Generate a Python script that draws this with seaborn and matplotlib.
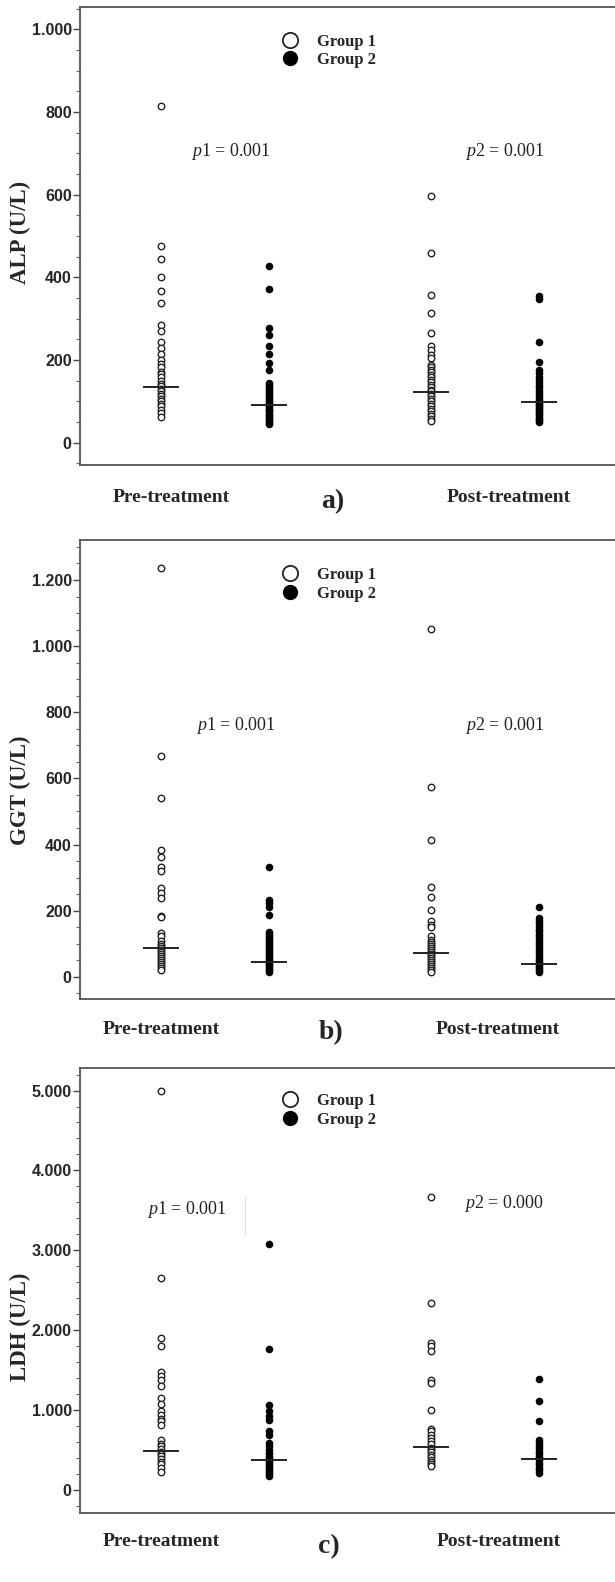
import matplotlib
matplotlib.use("Agg")
import matplotlib.pyplot as plt
from matplotlib.lines import Line2D
from matplotlib.ticker import MultipleLocator, FuncFormatter
import seaborn as sns
import pandas as pd

# values (U/L)
times = ["Pre-treatment", "Post-treatment"]
groups = ["Group 1", "Group 2"]

alp_pre_g1 = [815, 477, 444, 402, 368, 338, 284, 270, 243, 230, 215, 200, 190, 182, 172, 165,
              158, 150, 143, 136, 130, 124, 118, 112, 106, 100, 94, 88, 80, 72, 63]
alp_pre_g2 = [428, 371, 277, 261, 235, 215, 193, 176, 145, 140, 135, 130, 125, 120, 115, 110,
              105, 100, 96, 92, 88, 84, 80, 76, 72, 68, 64, 60, 56, 52, 48, 44]
alp_post_g1 = [597, 460, 357, 313, 265, 233, 225, 213, 205, 188, 182, 176, 170, 164, 158, 152,
               146, 140, 134, 128, 124, 118, 112, 106, 100, 94, 88, 82, 76, 70, 64, 58, 52]
alp_post_g2 = [355, 347, 244, 194, 176, 168, 160, 152, 145, 138, 132, 126, 120, 114, 108, 103,
               98, 94, 90, 86, 82, 78, 74, 70, 66, 62, 58, 54, 50]
alp_medians = [135, 90, 123, 99]

ggt_pre_g1 = [1237, 669, 540, 384, 363, 333, 321, 270, 255, 238, 184, 180, 132, 122, 107, 98,
              92, 86, 80, 74, 68, 62, 56, 50, 44, 38, 32, 26, 21]
ggt_pre_g2 = [333, 233, 223, 210, 187, 137, 130, 124, 118, 112, 106, 100, 94, 88, 82, 76, 70,
              64, 58, 52, 46, 40, 35, 30, 25, 20, 16]
ggt_post_g1 = [1053, 573, 414, 271, 240, 202, 169, 157, 150, 122, 110, 104, 98, 92, 86, 80, 74,
               68, 62, 56, 50, 44, 38, 32, 26, 20, 16]
ggt_post_g2 = [211, 179, 170, 162, 154, 146, 138, 130, 122, 114, 106, 98, 90, 82, 74, 66, 58,
               50, 44, 38, 32, 26, 20, 16]
ggt_medians = [88, 46, 72, 38]

ldh_pre_g1 = [4990, 2650, 1900, 1800, 1470, 1420, 1380, 1300, 1150, 1080, 985, 940, 890, 860,
              810, 620, 580, 545, 510, 480, 450, 420, 390, 355, 320, 280, 230]
ldh_pre_g2 = [3080, 1770, 1060, 985, 920, 880, 733, 692, 590, 545, 500, 460, 430, 400, 375,
              350, 325, 300, 275, 250, 225, 200, 170]
ldh_post_g1 = [3667, 2334, 1845, 1800, 1740, 1370, 1340, 997, 763, 733, 692, 650, 610, 570,
               530, 500, 470, 440, 410, 380, 350, 320, 300]
ldh_post_g2 = [1383, 1111, 868, 630, 590, 550, 520, 490, 460, 430, 400, 370, 340, 310, 280,
               250, 210]
ldh_medians = [482, 377, 536, 390]

p_labels = [["p1 = 0.001", "p2 = 0.001"], ["p1 = 0.001", "p2 = 0.001"], ["p1 = 0.001", "p2 = 0.000"]]

sns.set_style("white")
plt.rcParams["mathtext.fontset"] = "custom"
plt.rcParams["mathtext.rm"] = "Liberation Serif"
plt.rcParams["mathtext.it"] = "Liberation Serif:italic"

W, H = 615, 1582
fig = plt.figure(figsize=(W / 100, H / 100), dpi=100)

# x position of each column (group 1 / group 2, pre / post)
xpos = {("Pre-treatment", "Group 1"): 1.0, ("Pre-treatment", "Group 2"): 2.0,
        ("Post-treatment", "Group 1"): 3.5, ("Post-treatment", "Group 2"): 4.5}


def long_table(pre1, pre2, post1, post2):
    rows = []
    for t, g, vals in [(times[0], groups[0], pre1), (times[0], groups[1], pre2),
                       (times[1], groups[0], post1), (times[1], groups[1], post2)]:
        for v in vals:
            rows.append({"time": t, "group": g, "value": v, "x": xpos[(t, g)]})
    return pd.DataFrame(rows)


def fx(x):
    return x / W


def fy(y):
    return 1 - y / H


panels = [
    dict(df=long_table(alp_pre_g1, alp_pre_g2, alp_post_g1, alp_post_g2), med=alp_medians,
         box=(80, 7, 465), ylim=(-54, 1054), major=200, minor=50, ylabel="ALP (U/L)",
         ylab_y=232, leg_y=51, p_pos=[(191, 152), (465, 152)], cat=[(171, 497), (509, 497)],
         letter=("a)", 333, 502)),
    dict(df=long_table(ggt_pre_g1, ggt_pre_g2, ggt_post_g1, ggt_post_g2), med=ggt_medians,
         box=(80, 540, 999), ylim=(-67, 1321), major=200, minor=50, ylabel="GGT (U/L)",
         ylab_y=790, leg_y=584.5, p_pos=[(196, 726), (465, 726)], cat=[(161, 1030), (498, 1030)],
         letter=("b)", 331, 1033)),
    dict(df=long_table(ldh_pre_g1, ldh_pre_g2, ldh_post_g1, ldh_post_g2), med=ldh_medians,
         box=(80, 1068, 1513), ylim=(-289, 5282), major=1000, minor=200, ylabel="LDH (U/L)",
         ylab_y=1327, leg_y=1110.5, p_pos=[(147, 1210), (464, 1203)], cat=[(161, 1542), (499, 1542)],
         letter=("c)", 329, 1547)),
]

thousands = FuncFormatter(lambda v, pos: f"{int(round(v)):,}".replace(",", "."))

for i, p in enumerate(panels):
    left, top, bottom = p["box"]
    ax = fig.add_axes([fx(left), fy(bottom), 1 - fx(left), (bottom - top) / H])
    df = p["df"]

    g1 = df[df["group"] == "Group 1"]
    g2 = df[df["group"] == "Group 2"]
    sns.scatterplot(data=g1, x="x", y="value", ax=ax, s=22, marker="o",
                    facecolor="white", edgecolor="#222222", linewidth=1.0, legend=False, zorder=3)
    sns.scatterplot(data=g2, x="x", y="value", ax=ax, s=30, marker="o",
                    color="black", linewidth=0, legend=False, zorder=3)

    med_x = [xpos[(t, g)] for t in times for g in groups]
    ax.hlines(p["med"], [m - 0.167 for m in med_x], [m + 0.167 for m in med_x],
              color="#222222", linewidth=1.4, zorder=4)

    ax.set_xlim(0.25, 5.2)
    ax.set_ylim(*p["ylim"])
    ax.set_xticks([])
    ax.set_xlabel("")
    ax.set_ylabel("")
    ax.yaxis.set_major_locator(MultipleLocator(p["major"]))
    ax.yaxis.set_minor_locator(MultipleLocator(p["minor"]))
    ax.yaxis.set_major_formatter(thousands)
    ax.tick_params(axis="y", which="major", left=True, length=5, width=1.0, color="#444444",
                   pad=1, labelsize=11.5)
    ax.tick_params(axis="y", which="minor", left=True, length=2.8, width=0.8, color="#666666")
    for lab in ax.get_yticklabels():
        lab.set_fontfamily("Liberation Sans")
        lab.set_fontweight("bold")
    for side in ["left", "bottom", "top"]:
        ax.spines[side].set_color("#555555")
        ax.spines[side].set_linewidth(1.3)
    ax.spines["right"].set_visible(False)

    handles = [Line2D([], [], marker="o", ls="", ms=11, mfc="white", mec="#222222", mew=1.3),
               Line2D([], [], marker="o", ls="", ms=11, mfc="black", mec="black", mew=0)]
    ax.legend(handles, groups, loc="center left", bbox_to_anchor=(fx(281.7), fy(p["leg_y"])),
              bbox_transform=fig.transFigure, frameon=False, borderpad=0, borderaxespad=0,
              handlelength=1.0, handletextpad=1.1, labelspacing=0.15,
              prop={"family": "Liberation Serif", "weight": "bold", "size": 12})

    fig.text(fx(20), fy(p["ylab_y"]), p["ylabel"], rotation=90, ha="center", va="center",
             fontfamily="Liberation Serif", fontweight="bold", fontsize=16.5)

    for (px, py), lab in zip(p["p_pos"], p_labels[i]):
        fig.text(fx(px), fy(py), "$p$" + lab[1:], ha="left", va="center",
                 fontfamily="Liberation Serif", fontsize=13, color="#222222")

    for (cx, cy), t in zip(p["cat"], times):
        fig.text(fx(cx), fy(cy), t, ha="center", va="center", fontfamily="Liberation Serif",
                 fontweight="bold", fontsize=14)
    letter, lx, ly = p["letter"]
    fig.text(fx(lx), fy(ly), letter, ha="center", va="center", fontfamily="Liberation Serif",
             fontweight="bold", fontsize=20)

# faint stray line next to p1 in panel c
fig.add_artist(Line2D([fx(245), fx(245)], [fy(1198), fy(1235)], color="#dddddd", linewidth=0.8))

fig.savefig("out.png", dpi=100)
